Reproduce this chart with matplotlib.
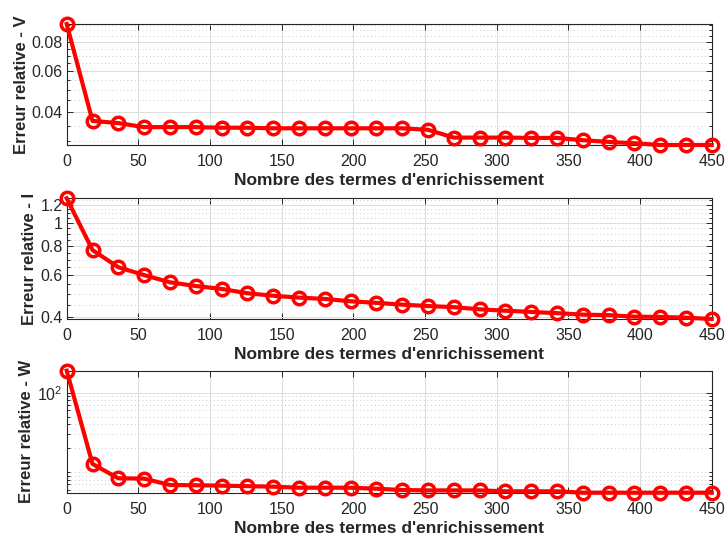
import matplotlib
matplotlib.use("Agg")
import matplotlib.pyplot as plt
import numpy as np
from matplotlib.ticker import FixedLocator, NullLocator, FixedFormatter

plt.rcParams['font.family'] = ['Liberation Sans', 'DejaVu Sans']
plt.rcParams['mathtext.fontset'] = 'custom'
plt.rcParams['mathtext.rm'] = 'Liberation Sans'

# nombre de termes d'enrichissement
n_termes = [0, 18, 36, 54, 72, 90, 108, 126, 144, 162, 180, 198, 216,
            234, 252, 270, 288, 306, 324, 342, 360, 378, 396, 414, 432, 450]

# erreurs relatives
err_V = [0.0959, 0.0367, 0.0359, 0.0345, 0.0345, 0.0345, 0.0343, 0.0343,
         0.0341, 0.0341, 0.0341, 0.0341, 0.0341, 0.0341, 0.0336, 0.0311,
         0.0311, 0.0311, 0.0310, 0.0310, 0.0303, 0.0298, 0.0294, 0.0289,
         0.0289, 0.0289]
err_I = [1.275, 0.769, 0.650, 0.602, 0.561, 0.541, 0.526, 0.504, 0.492,
         0.483, 0.477, 0.466, 0.459, 0.451, 0.445, 0.440, 0.431, 0.425,
         0.420, 0.415, 0.409, 0.407, 0.401, 0.400, 0.397, 0.392]
err_W = [189, 12.7, 8.38, 8.3, 6.9, 6.85, 6.77, 6.68, 6.57, 6.38, 6.38,
         6.38, 6.2, 5.97, 5.9, 5.9, 5.9, 5.75, 5.75, 5.75, 5.52, 5.52,
         5.52, 5.52, 5.52, 5.52]

xticks = [0, 50, 100, 150, 200, 250, 300, 350, 400, 450]

V_ticks = [0.04, 0.06, 0.08]
V_labels = ['0.04', '0.06', '0.08']
V_minor = [0.030, 0.035, 0.045, 0.050, 0.055, 0.065, 0.070, 0.075,
           0.085, 0.090, 0.095]

I_ticks = [0.4, 0.6, 0.8, 1.0, 1.2]
I_labels = ['0.4', '0.6', '0.8', '1', '1.2']
I_minor = [0.45, 0.5, 0.55, 0.65, 0.7, 0.75, 0.85, 0.9, 0.95,
           1.05, 1.1, 1.15, 1.25]

W_ticks = [100]
W_labels = ['$10^2$']
W_minor = [6, 7, 8, 9, 10, 20, 30, 40, 50, 60, 70, 80, 90]

dark = '#262626'
fig = plt.figure(figsize=(7.25, 5.38), dpi=100)

panneaux = [
    (err_V, 'Erreur relative - V', V_ticks, V_labels, V_minor, [0.092, 0.7305, 0.8897, 0.2249]),
    (err_I, 'Erreur relative - I', I_ticks, I_labels, I_minor, [0.092, 0.4071, 0.8897, 0.2243]),
    (err_W, 'Erreur relative - W', W_ticks, W_labels, W_minor, [0.092, 0.0842, 0.8897, 0.2268]),
]

for err, ylab, yt, ylbl, ymin, pos in panneaux:
    ax = fig.add_axes(pos)
    ax.plot(n_termes, err, '-o', color='red', lw=3, ms=9, mew=2.5,
            mfc='none', clip_on=False, zorder=5)
    ax.set_yscale('log')
    ax.set_xlim(0, 450)
    ax.set_ylim(min(err), max(err))
    ax.set_xticks(xticks)
    ax.xaxis.set_minor_locator(NullLocator())
    ax.yaxis.set_major_locator(FixedLocator(yt))
    ax.yaxis.set_major_formatter(FixedFormatter(ylbl))
    ax.yaxis.set_minor_locator(FixedLocator(ymin))
    ax.yaxis.set_minor_formatter(FixedFormatter([''] * len(ymin)))

    ax.grid(True, which='major', color='#dcdcdc', lw=0.7, ls='-')
    ax.grid(True, which='minor', axis='y', color='#b8b8b8', lw=0.6, ls=(0, (1, 3.5)))
    ax.set_axisbelow(True)

    ax.tick_params(which='both', direction='in', top=True, right=True,
                   colors=dark, labelsize=11.5, width=0.7)
    ax.tick_params(which='major', length=4.5)
    ax.tick_params(which='minor', length=2.5)
    ax.tick_params(axis='x', pad=6.5)
    ax.tick_params(axis='y', which='major', pad=3)
    for sp in ax.spines.values():
        sp.set_color(dark)
        sp.set_linewidth(0.8)

    ax.set_xlabel("Nombre des termes d'enrichissement", fontsize=12.5,
                  fontweight='bold', color=dark, labelpad=3)
    ax.set_ylabel(ylab, fontsize=12, fontweight='bold', color=dark, labelpad=2)

fig.savefig('out.png', dpi=100)
